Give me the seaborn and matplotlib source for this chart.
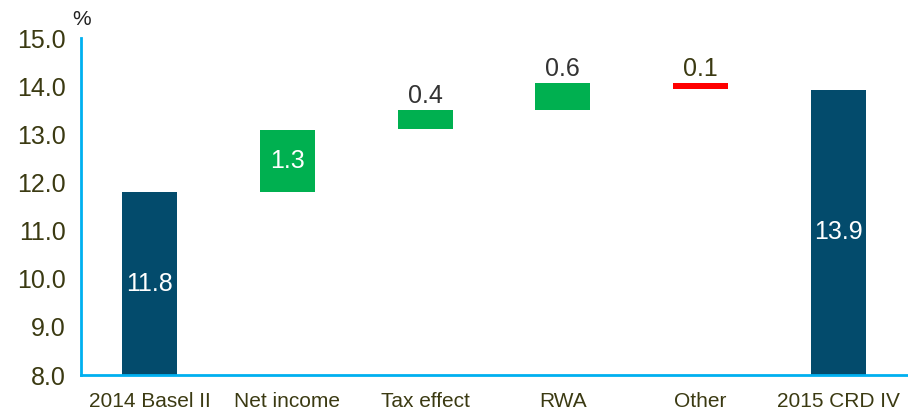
import numpy as np
import pandas as pd
import matplotlib
matplotlib.use("Agg")
import matplotlib.pyplot as plt
import seaborn as sns

# data (bottom / top of each bar, in %)
steps = ["2014 Basel II", "Net income", "Tax effect", "RWA", "Other", "2015 CRD IV"]
bottoms = [8.0, 11.8, 13.12, 13.5, 13.95, 8.0]
tops = [11.8, 13.1, 13.5, 14.07, 14.07, 13.93]
labels = ["11.8", "1.3", "0.4", "0.6", "0.1", "13.9"]
bar_colors = ["#034b6c", "#00b050", "#00b050", "#00b050", "#ff0000", "#034b6c"]

df = pd.DataFrame({"step": steps, "bottom": bottoms, "top": tops})
df["size"] = df["top"] - df["bottom"]

axis_blue = "#00b0f0"
tick_col = "#3b3a12"

sns.set_style("white")
plt.rcParams["font.family"] = ["Liberation Sans", "DejaVu Sans"]

fig = plt.figure(figsize=(9.08, 4.09), dpi=100)
ax = fig.add_axes([0.089, 0.083, 0.91, 0.824])

sns.barplot(data=df, x="step", y="size", color="#034b6c", width=0.4,
            linewidth=0, ax=ax)

# move each bar to its floating position and recolour it
for patch, b, c in zip(ax.patches, df["bottom"], bar_colors):
    patch.set_y(b)
    patch.set_facecolor(c)

# value labels
for i, (b, t, lab) in enumerate(zip(bottoms, tops, labels)):
    if i in (0, 1, 5):
        ax.text(i, (b + t) / 2, lab, ha="center", va="center", color="white", fontsize=18)
    else:
        col = tick_col if i == 4 else "#333333"
        ax.text(i, t + 0.04, lab, ha="center", va="bottom", color=col, fontsize=18)

ax.set_ylim(8, 15)
ax.set_xlim(-0.5, 5.5)
ax.set_yticks(np.arange(8, 15.5, 1.0))
ax.set_yticklabels([f"{v:.1f}" for v in np.arange(8, 15.5, 1.0)])
ax.set_xlabel("")
ax.set_ylabel("")

# category ticks sit between categories, labels in the middle
ax.set_xticks(np.arange(-0.5, 6, 1.0))
ax.set_xticklabels([""] * 7)
ax.set_xticks(np.arange(6), minor=True)
ax.set_xticklabels(steps, minor=True)
ax.tick_params(axis="x", which="minor", length=0, pad=12, labelsize=15, labelcolor=tick_col)
ax.tick_params(axis="x", which="major", length=6, width=2, color=axis_blue, direction="out")
ax.tick_params(axis="y", length=6, width=2, color=axis_blue, direction="out",
               labelsize=18, labelcolor=tick_col, pad=5)

for side in ["top", "right"]:
    ax.spines[side].set_visible(False)
for side in ["left", "bottom"]:
    ax.spines[side].set_color(axis_blue)
    ax.spines[side].set_linewidth(2)

fig.text(0.080, 0.93, "%", ha="left", va="bottom", fontsize=15, color="#222222")

fig.savefig("out.png", dpi=100)
